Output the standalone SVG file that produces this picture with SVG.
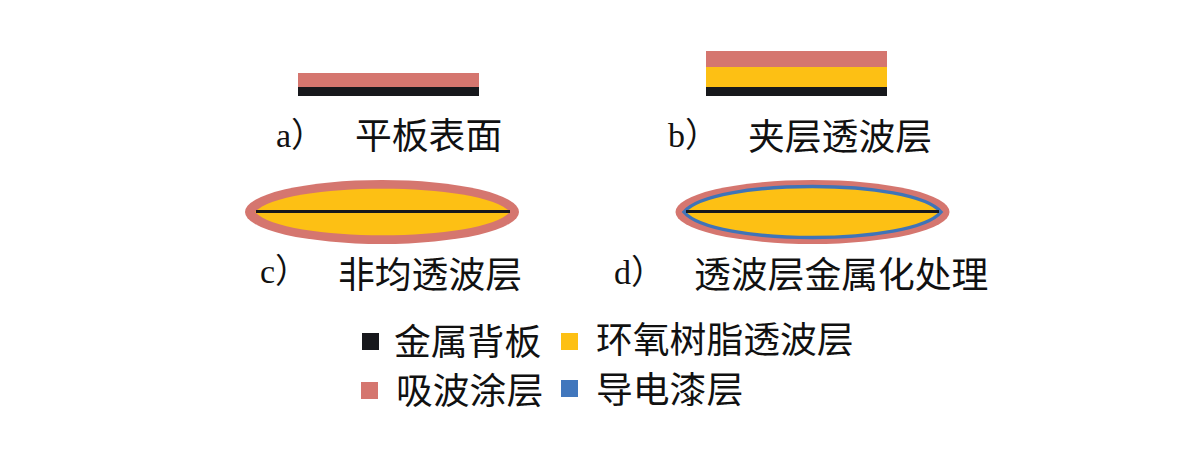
<svg xmlns="http://www.w3.org/2000/svg" width="1200" height="449" viewBox="0 0 1200 449">
<style>
.t{font-family:"Liberation Serif","Noto Sans CJK SC",serif;font-size:34px;fill:#111}
.c{font-family:"Noto Sans CJK SC",serif;font-size:36.800px;fill:#111;font-weight:400}
.k{fill:#17181c}.y{fill:#fdc014}.p{fill:#d5766f}.b{fill:#4177bd}
</style>
<rect width="1200" height="449" fill="#fff"/>
<g id="a">
<rect class="p" x="298" y="73" width="181" height="15"/>
<rect class="k" x="298" y="87" width="181" height="9"/>
<text class="t" x="276" y="147">a）</text>
<text class="c" x="355" y="149">平板表面</text>
</g>
<g id="b">
<rect class="p" x="706" y="51" width="181" height="16"/>
<rect class="y" x="706" y="67" width="181" height="21"/>
<rect class="k" x="706" y="87" width="181" height="9"/>
<text class="t" x="668" y="147">b）</text>
<text class="c" x="748" y="150">夹层透波层</text>
</g>
<g id="c">
<ellipse class="p" cx="382" cy="212" rx="137" ry="32"/>
<path class="y" d="M255 212C283 181 482 181 510 212C482 243 283 243 255 212Z"/>
<rect class="k" x="256" y="210" width="254" height="3"/>
<text class="t" x="260" y="283">c）</text>
<text class="c" x="338" y="288">非均透波层</text>
</g>
<g id="d">
<ellipse class="p" cx="812.500" cy="212" rx="137" ry="32"/>
<path class="y" stroke="#3f74b8" stroke-width="3.500" d="M684 212C712 178 913 178 941 212C913 246 712 246 684 212Z"/>
<rect class="k" x="686" y="210" width="253" height="3"/>
<text class="t" x="614" y="284">d）</text>
<text class="c" x="694" y="288">透波层金属化处理</text>
</g>
<g id="legend-metal">
<rect class="k" x="362" y="333" width="17" height="17"/>
<text class="c" x="394" y="355">金属背板</text>
</g>
<g id="legend-epoxy">
<rect class="y" x="561" y="333" width="17" height="17"/>
<text class="c" x="596" y="353">环氧树脂透波层</text>
</g>
<g id="legend-absorb">
<rect class="p" x="361" y="382" width="17" height="17"/>
<text class="c" x="396" y="404">吸波涂层</text>
</g>
<g id="legend-paint">
<rect class="b" x="561" y="380" width="17" height="17"/>
<text class="c" x="596" y="403">导电漆层</text>
</g>
</svg>
